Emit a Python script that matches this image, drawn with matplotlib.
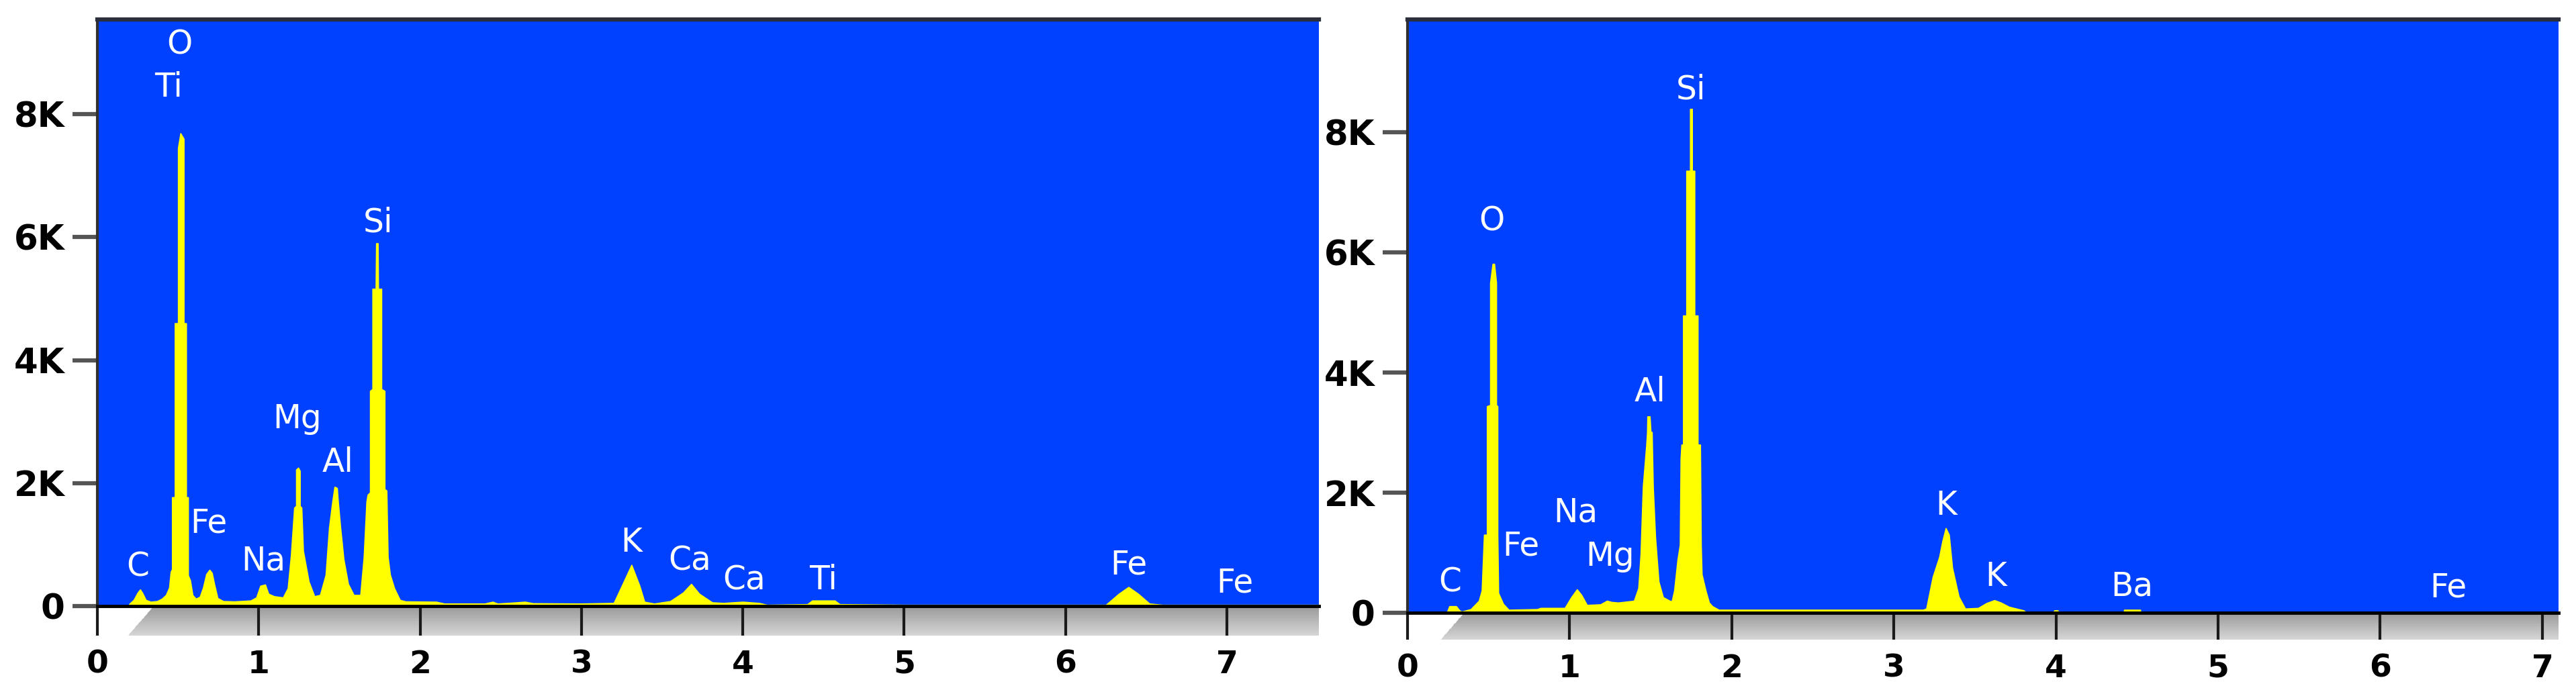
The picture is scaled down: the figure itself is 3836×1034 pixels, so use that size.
import numpy as np
import matplotlib
matplotlib.use("Agg")
import matplotlib.pyplot as plt
from matplotlib.patches import Polygon
from matplotlib.ticker import FuncFormatter

# ---------------- data ----------------
# Left spectrum: energy (keV) and counts
left_energy = [0.19, 0.20, 0.225, 0.25, 0.265, 0.28, 0.30, 0.33, 0.37, 0.40, 0.425, 0.445, 0.455, 0.463,
               0.463, 0.480, 0.480, 0.500, 0.500, 0.515, 0.535, 0.535, 0.550, 0.550, 0.562, 0.562, 0.575,
               0.590, 0.610, 0.635, 0.655, 0.675, 0.695, 0.710, 0.725, 0.745, 0.780, 0.850, 0.950, 0.985,
               1.010, 1.040, 1.060, 1.095, 1.150, 1.180, 1.200, 1.220, 1.232, 1.232, 1.245, 1.255, 1.255,
               1.265, 1.275, 1.310, 1.345, 1.380, 1.415, 1.436, 1.457, 1.470, 1.485, 1.490, 1.505, 1.526,
               1.554, 1.589, 1.630, 1.651, 1.668, 1.675, 1.690, 1.690, 1.705, 1.705, 1.725, 1.728, 1.738,
               1.740, 1.760, 1.760, 1.780, 1.780, 1.792, 1.800, 1.814, 1.840, 1.875, 1.91, 2.10, 2.15,
               2.40, 2.45, 2.48, 2.60, 2.65, 2.70, 3.00, 3.20, 3.25, 3.31, 3.36, 3.39, 3.45, 3.55, 3.63,
               3.68, 3.73, 3.81, 3.88, 4.00, 4.10, 4.15, 4.40, 4.43, 4.57, 4.60, 5.00, 6.25, 6.33, 6.39,
               6.45, 6.52, 6.60, 7.57]
left_counts = [0, 40, 100, 220, 270, 210, 100, 70, 80, 120, 180, 300, 560, 600,
               1770, 1770, 4600, 4600, 7450, 7690, 7600, 4600, 4600, 1770, 1770, 500, 420,
               180, 120, 150, 300, 520, 590, 540, 350, 130, 80, 75, 90, 140,
               330, 350, 200, 160, 140, 290, 830, 1600, 1630, 2220, 2250, 2200, 1630,
               1600, 900, 400, 160, 180, 510, 1270, 1710, 1940, 1920, 1740, 1300, 760,
               360, 180, 180, 800, 1700, 1810, 1850, 3500, 3530, 5160, 5160, 5900, 5900,
               5160, 5160, 3530, 3500, 1900, 1880, 800, 510, 290, 100, 75, 70, 40,
               40, 70, 40, 60, 70, 45, 40, 50, 330, 670, 330, 70, 40, 80, 220,
               360, 200, 60, 50, 70, 50, 20, 30, 90, 90, 30, 20, 20, 200, 310,
               200, 40, 20, 20]

# Right spectrum: energy (keV) and counts
right_energy = [0.235, 0.245, 0.258, 0.300, 0.320, 0.334, 0.39, 0.440, 0.458, 0.472, 0.490, 0.490, 0.510,
                0.510, 0.525, 0.535, 0.547, 0.547, 0.555, 0.555, 0.560, 0.590, 0.624, 0.80, 0.82, 0.97,
                1.010, 1.045, 1.072, 1.107, 1.19, 1.23, 1.258, 1.30, 1.397, 1.424, 1.438, 1.452, 1.473,
                1.478, 1.480, 1.494, 1.500, 1.507, 1.514, 1.528, 1.549, 1.576, 1.617, 1.630, 1.645, 1.666,
                1.680, 1.685, 1.690, 1.700, 1.700, 1.720, 1.720, 1.743, 1.743, 1.755, 1.755, 1.770, 1.770,
                1.790, 1.790, 1.805, 1.810, 1.815, 1.840, 1.860, 1.880, 1.92, 3.18, 3.20, 3.24, 3.28,
                3.30, 3.32, 3.34, 3.36, 3.40, 3.44, 3.52, 3.57, 3.62, 3.66, 3.71, 3.80, 3.82, 3.98, 3.99,
                4.01, 4.02, 4.42, 4.42, 4.52, 4.52, 7.10]
right_counts = [0, 20, 110, 110, 40, 20, 60, 200, 370, 1300, 1300, 3440, 3460,
                5500, 5810, 5810, 5500, 3460, 3440, 1300, 330, 150, 50, 60, 80, 80,
                260, 390, 300, 130, 140, 200, 180, 170, 200, 410, 970, 2100, 2790,
                3000, 3270, 3270, 3010, 3010, 2100, 1260, 520, 260, 200, 190, 370, 890,
                1130, 2570, 2800, 2800, 4950, 4950, 7360, 7360, 8390, 8390, 7360, 7360, 4950,
                4950, 2800, 2800, 1130, 640, 360, 170, 110, 50, 50, 70, 600, 930,
                1200, 1410, 1300, 750, 270, 70, 80, 160, 210, 170, 100, 40, 0, 0, 40,
                40, 0, 0, 50, 50, 0, 0]

# Peak labels: element, energy (keV), baseline height (counts)
left_labels = ["O", "Ti", "Si", "C", "Fe", "Na", "Mg", "Al", "K", "Ca", "Ca", "Ti", "Fe", "Fe"]
left_label_e = [0.51, 0.44, 1.74, 0.25, 0.69, 1.03, 1.24, 1.49, 3.31, 3.67, 4.01, 4.50, 6.39, 7.05]
left_label_y = [8980, 8280, 6090, 490, 1200, 580, 2890, 2180, 880, 580, 270, 270, 520, 220]

right_labels = ["Si", "O", "Al", "Na", "Fe", "Mg", "C", "K", "K", "Ba", "Fe"]
right_label_e = [1.75, 0.52, 1.495, 1.035, 0.70, 1.25, 0.26, 3.325, 3.63, 4.47, 6.42]
right_label_y = [8560, 6370, 3520, 1510, 950, 780, 350, 1630, 450, 290, 260]

y_ticks = [0, 2000, 4000, 6000, 8000]

# ---------------- figure ----------------
W, H = 3837, 1034
plt.rcParams["font.family"] = ["DejaVu Sans"]
fig = plt.figure(figsize=(W / 100, H / 100), dpi=100)
fig.patch.set_facecolor("white")


def frac(x0, x1, y_top, y_bot):
    return [x0 / W, 1 - y_bot / H, (x1 - x0) / W, (y_bot - y_top) / H]


BLUE = "#0041FF"
YELLOW = "#FFFF00"


def draw_panel(rect, energy, counts, labels, lab_e, lab_y, xmax, ymax,
               band_px, band_top_e, band_bot_e):
    ax = fig.add_axes(rect)
    ax.set_facecolor(BLUE)
    ax.fill_between(energy, counts, 0, facecolor=YELLOW, edgecolor=YELLOW,
                    lw=1.2, zorder=2)
    for t, e, y in zip(labels, lab_e, lab_y):
        ax.text(e, y, t, color="white", fontsize=35, ha="center", va="baseline",
                fontweight="normal", zorder=3)

    # gray bevel band under the x axis
    ax_h_px = rect[3] * H
    d = band_px / ax_h_px
    trans = ax.get_xaxis_transform()
    n = 30
    for i in range(n):
        f0, f1 = i / n, (i + 1) / n
        xl0 = band_top_e + (band_bot_e - band_top_e) * f0
        xl1 = band_top_e + (band_bot_e - band_top_e) * f1
        g = 0.60 + 0.24 * (f0 + f1) / 2
        poly = Polygon([[xl0, -f0 * d], [xmax, -f0 * d], [xmax, -f1 * d], [xl1, -f1 * d]],
                       closed=True, transform=trans, facecolor=(g, g, g),
                       edgecolor="none", clip_on=False, zorder=0.5)
        ax.add_patch(poly)

    ax.set_xlim(0, xmax)
    ax.set_ylim(0, ymax)
    ax.set_xticks(range(0, int(xmax) + 1))
    ax.set_yticks(y_ticks)
    ax.yaxis.set_major_formatter(
        FuncFormatter(lambda v, p: "0" if v == 0 else f"{int(round(v / 1000))}K"))
    ax.tick_params(axis="x", direction="out", length=band_px * 0.72, width=3,
                   color="#1a1a1a", pad=15, labelsize=34)
    ax.tick_params(axis="y", direction="out", length=27, width=4.5,
                   color="#555555", pad=8, labelsize=37)
    for lab in ax.get_xticklabels() + ax.get_yticklabels():
        lab.set_fontweight("bold")

    ax.spines["right"].set_visible(False)
    ax.spines["top"].set_color("#2b2f3b")
    ax.spines["top"].set_linewidth(4.5)
    ax.spines["left"].set_color("#303030")
    ax.spines["left"].set_linewidth(3)
    ax.spines["bottom"].set_color("black")
    ax.spines["bottom"].set_linewidth(3.5)
    return ax


axL = draw_panel(frac(145, 1964, 29, 903), left_energy, left_counts,
                 left_labels, left_label_e, left_label_y,
                 xmax=7.57, ymax=9540, band_px=44, band_top_e=0.35, band_bot_e=0.19)
axR = draw_panel(frac(2096, 3810, 29, 913), right_energy, right_counts,
                 right_labels, right_label_e, right_label_y,
                 xmax=7.10, ymax=9880, band_px=40, band_top_e=0.35, band_bot_e=0.205)

fig.savefig("out.png", dpi=100, facecolor="white")
